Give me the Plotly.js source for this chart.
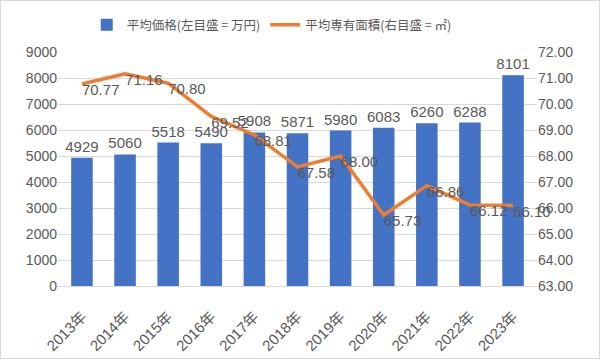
<!DOCTYPE html>
<html>
<head>
<meta charset="utf-8">
<script src="https://cdn.plot.ly/plotly-3.0.1.min.js"></script>
<style>
html,body{margin:0;padding:0;background:#fff;}
#frame{position:absolute;left:0;top:0;width:598px;height:357px;border:1px solid #d9d9d9;}
#chart{position:absolute;left:0;top:0;width:600px;height:360px;}
</style>
</head>
<body>
<div id="frame"></div>
<div id="chart"></div>
<script>
const years = ["2013年","2014年","2015年","2016年","2017年","2018年","2019年","2020年","2021年","2022年","2023年"];
const avgPrice = [4929, 5060, 5518, 5490, 5908, 5871, 5980, 6083, 6260, 6288, 8101];
const avgArea = [70.77, 71.16, 70.80, 69.52, 68.81, 67.58, 68.00, 65.73, 66.86, 66.12, 66.10];
const priceName = "平均価格(左目盛 = 万円)";
const areaName = "平均専有面積(右目盛 = ㎡)";

const fontFam = '"Liberation Sans", "Noto Sans CJK JP", sans-serif';
const txtColor = '#595959';

const traces = [
  {
    type: 'bar', x: years, y: avgPrice, name: priceName,
    marker: {color: '#4472C4'},
    text: avgPrice.map(String), textposition: 'outside', cliponaxis: false, constraintext: 'none',
    textfont: {size: 15, color: txtColor, family: fontFam},
    hoverinfo: 'x+y'
  },
  {
    type: 'scatter', mode: 'lines+text', x: years, y: avgArea, name: areaName, yaxis: 'y2',
    line: {color: '#ED7D31', width: 3.5},
    text: avgArea.map(v => v.toFixed(2)), textposition: 'bottom right', cliponaxis: false,
    textfont: {size: 15, color: txtColor, family: fontFam}
  }
];

const layout = {
  width: 600, height: 360,
  paper_bgcolor: 'rgba(0,0,0,0)', plot_bgcolor: 'rgba(0,0,0,0)',
  margin: {l: 58, r: 63, t: 52, b: 74, autoexpand: false},
  font: {family: fontFam, color: txtColor, size: 14},
  bargap: 0.5,
  showlegend: true,
  legend: {orientation: 'h', x: 0.06, xanchor: 'left', y: 1.115, yanchor: 'middle',
           itemwidth: 30, tracegroupgap: 0,
           font: {size: 12.5, color: txtColor, family: '"Noto Sans CJK JP", sans-serif'}},
  xaxis: {tickangle: -45, showgrid: false, showline: true, linecolor: '#d9d9d9', ticks: '',
          ticklabelstandoff: 15, tickfont: {size: 15, color: txtColor}},
  yaxis: {range: [0, 9000], dtick: 1000, gridcolor: '#d9d9d9', zeroline: false,
          ticks: '', tickfont: {size: 14, color: txtColor}, tickformat: 'd'},
  yaxis2: {range: [63, 72], dtick: 1, overlaying: 'y', side: 'right', showgrid: false,
           zeroline: false, tickformat: '.2f', ticks: '', tickfont: {size: 14, color: txtColor}}
};

Plotly.newPlot('chart', traces, layout, {displayModeBar: false, staticPlot: true});
</script>
</body>
</html>
